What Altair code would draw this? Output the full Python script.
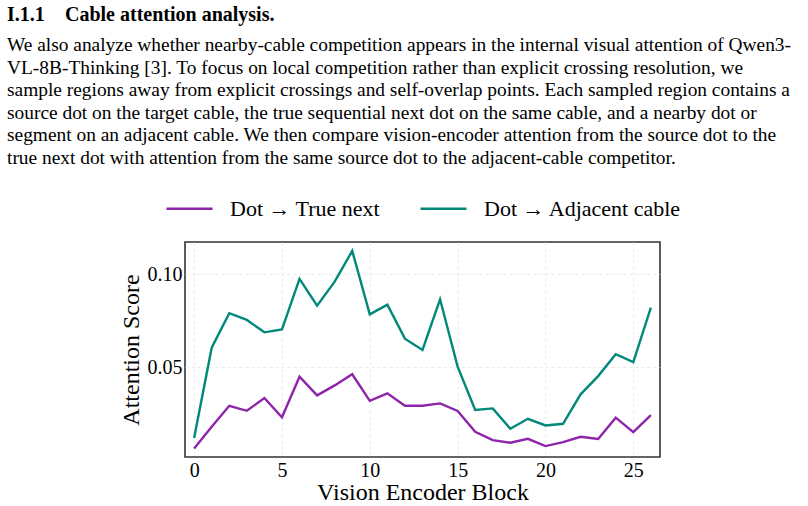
import altair as alt
import pandas as pd

blocks = list(range(27))
true_next = [0.0061, 0.0178, 0.0291, 0.0264, 0.0333, 0.0229, 0.0448, 0.0347, 0.0401,
             0.0461, 0.0318, 0.0358, 0.0291, 0.0291, 0.0304, 0.0263, 0.0151, 0.0106,
             0.0092, 0.0113, 0.0074, 0.0095, 0.0124, 0.0112, 0.0227, 0.0149, 0.0241]
adjacent = [0.0117, 0.0604, 0.0790, 0.0754, 0.0687, 0.0703, 0.0975, 0.0831, 0.0960,
            0.1126, 0.0784, 0.0836, 0.0653, 0.0592, 0.0865, 0.0502, 0.0268, 0.0277,
            0.0167, 0.0221, 0.0185, 0.0194, 0.0353, 0.0451, 0.0569, 0.0527, 0.0820]
series_names = ["Dot \u2192 True next", "Dot \u2192 Adjacent cable"]
series_colors = ["#8E24AA", "#00897B"]

heading_num = "I.1.1"
heading_text = "Cable attention analysis."
paragraph = [
    "We also analyze whether nearby-cable competition appears in the internal visual attention of Qwen3-",
    "VL-8B-Thinking [3]. To focus on local competition rather than explicit crossing resolution, we",
    "sample regions away from explicit crossings and self-overlap points. Each sampled region contains a",
    "source dot on the target cable, the true sequential next dot on the same cable, and a nearby dot or",
    "segment on an adjacent cable. We then compare vision-encoder attention from the source dot to the",
    "true next dot with attention from the same source dot to the adjacent-cable competitor.",
]

df = pd.DataFrame({
    "block": blocks * 2,
    "score": true_next + adjacent,
    "series": [series_names[0]] * len(blocks) + [series_names[1]] * len(blocks),
})

FONT = "Liberation Serif"

lines = alt.Chart(df).mark_line(strokeWidth=2.4).encode(
    x=alt.X("block:Q",
            scale=alt.Scale(domain=[-0.52, 26.52], nice=False, zero=False),
            axis=alt.Axis(values=[0, 5, 10, 15, 20, 25], title="Vision Encoder Block",
                          labelPadding=3, titlePadding=0)),
    y=alt.Y("score:Q",
            scale=alt.Scale(domain=[0.0015, 0.1174], nice=False, zero=False),
            axis=alt.Axis(values=[0.05, 0.10], format=".2f", title="Attention Score",
                          labelPadding=3, titlePadding=4)),
    color=alt.Color("series:N",
                    scale=alt.Scale(domain=series_names, range=series_colors),
                    sort=series_names,
                    legend=alt.Legend(orient="none", legendX=-20, legendY=-58,
                                      direction="horizontal", title=None,
                                      symbolType="stroke", symbolSize=2116,
                                      symbolStrokeWidth=2.5, labelFontSize=22,
                                      labelFont=FONT, labelColor="black", labelLimit=0,
                                      labelOffset=16, columnPadding=34)),
)

anchor = pd.DataFrame({"k": [0]})
head1 = alt.Chart(anchor).mark_text(
    font=FONT, fontSize=20, fontWeight="bold", align="left", baseline="alphabetic",
    color="black").encode(x=alt.value(-178), y=alt.value(-221), text=alt.value(heading_num))
head2 = alt.Chart(anchor).mark_text(
    font=FONT, fontSize=20, fontWeight="bold", align="left", baseline="alphabetic",
    color="black").encode(x=alt.value(-120), y=alt.value(-221), text=alt.value(heading_text))
para = alt.Chart(anchor).mark_text(
    font=FONT, fontSize=19.4, align="left", baseline="alphabetic", lineHeight=22.6,
    color="black").encode(x=alt.value(-178), y=alt.value(-191), text=alt.value(paragraph))

chart = alt.layer(lines, head1, head2, para).properties(
    width=475, height=215,
    autosize=alt.AutoSizeParams(type="none"),
    padding={"left": 185, "top": 242, "right": 148, "bottom": 49},
    background="white",
).configure_view(
    stroke="#333333", strokeWidth=1.6
).configure_axis(
    labelFont=FONT, labelFontSize=20, labelColor="black",
    titleFont=FONT, titleFontSize=24, titleFontWeight="normal", titleColor="black",
    ticks=False, domain=False,
    grid=True, gridColor="#e4e4e4", gridDash=[3, 3], gridWidth=0.8,
)

chart.save("out.html", embed_options={"renderer": "svg", "actions": False})
